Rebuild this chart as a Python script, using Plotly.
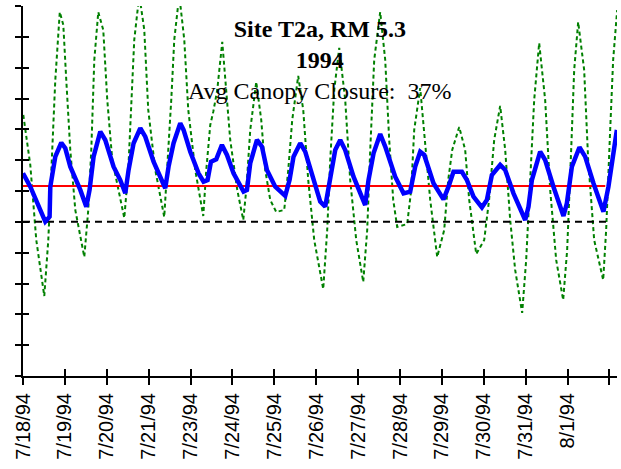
import plotly.graph_objects as go

# ---- data (x in days since 7/18/94, y in deg C) ----
tick_labels = ["7/18/94", "7/19/94", "7/20/94", "7/21/94", "7/23/94", "7/24/94", "7/25/94",
               "7/26/94", "7/27/94", "7/28/94", "7/29/94", "7/30/94", "7/31/94", "8/1/94", ""]
tick_pos = list(range(15))

water_x = [0.0, 0.174, 0.532, 0.635, 0.652, 0.771, 0.914, 1.010, 1.129, 1.368, 1.511, 1.589, 1.685,
           1.845, 1.964, 2.162, 2.322, 2.442, 2.520, 2.640, 2.800, 2.919, 3.117, 3.277, 3.396, 3.475,
           3.594, 3.754, 3.833, 3.993, 4.191, 4.310, 4.406, 4.487, 4.613, 4.749, 4.869, 5.026, 5.265,
           5.346, 5.425, 5.585, 5.704, 5.823, 6.021, 6.260, 6.363, 6.458, 6.618, 6.737, 6.897, 7.095,
           7.215, 7.334, 7.453, 7.573, 7.692, 7.890, 8.169, 8.248, 8.368, 8.527, 8.647, 8.885, 9.084,
           9.243, 9.363, 9.482, 9.578, 9.799, 10.038, 10.158, 10.277, 10.477, 10.597, 10.754, 10.955,
           11.074, 11.193, 11.391, 11.511, 11.709, 11.988, 12.067, 12.148, 12.346, 12.465, 12.663,
           12.902, 12.983, 13.103, 13.284, 13.420, 13.618, 13.857, 13.976, 14.095, 14.177]
water_t = [13.15, 12.28, 10.01, 10.33, 12.28, 14.23, 15.13, 14.77, 13.58, 12.07, 10.98, 12.07, 14.23,
           15.85, 15.31, 13.58, 12.71, 11.85, 13.36, 15.10, 16.07, 15.52, 13.90, 12.93, 12.18, 13.58,
           15.10, 16.39, 15.96, 14.55, 13.15, 12.60, 12.71, 13.90, 14.06, 14.99, 14.34, 13.15, 11.96,
           12.07, 13.80, 15.31, 14.88, 13.36, 12.28, 11.68, 12.71, 14.23, 15.10, 14.55, 13.04, 11.31,
           10.98, 12.71, 14.66, 15.31, 14.66, 12.93, 11.09, 12.71, 14.45, 15.70, 14.88, 12.93, 11.85,
           11.96, 13.58, 14.55, 14.34, 12.50, 11.46, 12.28, 13.25, 13.25, 12.71, 11.63, 10.94,
           11.42, 13.04, 13.69, 13.36, 11.85, 10.12, 10.98, 12.71, 14.55, 14.01, 12.28,
           10.38, 11.20, 13.58, 14.84, 14.23, 12.50, 10.66, 12.28, 14.45, 15.96]

air_x = [0.007, 0.174, 0.317, 0.508, 0.604, 0.699, 0.771, 0.878, 0.962, 1.033, 1.129, 1.248, 1.463,
         1.558, 1.630, 1.702, 1.797, 1.916, 2.012, 2.131, 2.418, 2.513, 2.585, 2.656, 2.776, 2.895,
         2.990, 3.158, 3.372, 3.444, 3.539, 3.611, 3.730, 3.850, 3.945, 4.112, 4.303, 4.375, 4.470,
         4.542, 4.637, 4.757, 4.852, 4.947, 5.115, 5.258, 5.330, 5.425, 5.568, 5.687, 5.783, 5.902,
         6.045, 6.236, 6.332, 6.427, 6.570, 6.690, 6.809, 6.952, 7.167, 7.262, 7.334, 7.430, 7.549,
         7.692, 7.811, 7.955, 8.122, 8.217, 8.289, 8.384, 8.527, 8.647, 8.742, 8.838, 8.933, 9.172,
         9.267, 9.339, 9.482, 9.601, 9.721, 9.888, 10.055, 10.151, 10.246, 10.413, 10.556, 10.652,
         10.819, 11.010, 11.126, 11.248, 11.391, 11.511, 11.630, 11.749, 11.916, 12.012, 12.107,
         12.203, 12.322, 12.465, 12.585, 12.728, 12.895, 12.990, 13.086, 13.158, 13.253, 13.396,
         13.492, 13.635, 13.850, 13.921, 14.017, 14.088, 14.184]
air_t = [16.93, 13.69, 8.82, 5.19, 8.82, 14.66, 19.20, 23.61, 22.77, 19.20, 14.66, 10.77, 7.72,
         10.77, 14.66, 20.50, 23.61, 22.45, 17.90, 14.01, 10.25, 13.36, 17.26, 21.80, 24.72, 22.45,
         17.26, 13.36, 10.31, 13.36, 17.90, 21.80, 24.72, 21.80, 17.26, 13.36, 10.38, 13.36, 16.28,
         17.13, 18.55, 21.67, 18.55, 15.31, 12.07, 10.12, 12.07, 15.96, 19.07, 16.61, 13.36, 11.42,
         10.64, 10.77, 13.36, 16.61, 19.46, 17.26, 12.71, 8.82, 5.64, 9.47, 14.01, 18.55, 21.28,
         17.90, 12.71, 8.82, 6.10, 9.47, 14.66, 20.50, 23.61, 20.50, 15.31, 11.42, 9.67, 9.86,
         12.07, 15.96, 18.68, 15.31, 11.42, 7.72, 9.47, 12.71, 14.66, 16.15, 14.66, 11.42,
         7.91, 8.82, 11.42, 15.31, 17.52, 14.66, 10.12, 6.88, 4.09, 7.53, 12.71,
         17.90, 21.60, 17.90, 12.07, 7.53, 4.93, 8.17, 14.66, 19.85, 22.96, 19.85,
         14.01, 8.82, 6.23, 9.47, 15.96, 20.50, 23.74]

mean_x = [0.0, 13.90]
mean_t = [12.33, 12.33]
crit_x = [0.0, 13.97]
crit_t = [10.0, 10.0]

x_max = 14.18
y_max = 24

fig = go.Figure()
fig.add_trace(go.Scatter(x=air_x, y=air_t, mode="lines",
                         line=dict(color="#008000", width=2, dash="4px,3px")))
fig.add_trace(go.Scatter(x=crit_x, y=crit_t, mode="lines",
                         line=dict(color="black", width=2, dash="7px,5px")))
fig.add_trace(go.Scatter(x=mean_x, y=mean_t, mode="lines",
                         line=dict(color="#ff0000", width=2)))
fig.add_trace(go.Scatter(x=water_x, y=water_t, mode="lines",
                         line=dict(color="#0000ff", width=4.5)))

fig.update_layout(
    width=621, height=469,
    margin=dict(l=23, r=4, t=6, b=93, autoexpand=False),
    paper_bgcolor="white", plot_bgcolor="white",
    showlegend=False,
    xaxis=dict(range=[0, x_max], tickvals=tick_pos, ticktext=tick_labels, tickangle=-90,
               ticks="outside", ticklen=7, tickwidth=2, tickcolor="black", automargin=False,
               showline=True, linewidth=2, linecolor="black", showgrid=False, zeroline=False,
               tickfont=dict(family="Liberation Sans, Arial", size=20, color="black")),
    xaxis2=dict(range=[0, x_max], overlaying="x", anchor="y", side="bottom", automargin=False,
                tickvals=tick_pos, ticks="inside", ticklen=7, tickwidth=2, tickcolor="black",
                showticklabels=False, showline=False, showgrid=False, zeroline=False),
    yaxis=dict(range=[0, y_max], tickvals=list(range(0, 25, 2)), ticks="outside", ticklen=6,
               tickwidth=2, tickcolor="black", showticklabels=False, automargin=False,
               showline=True, linewidth=2, linecolor="black", showgrid=False, zeroline=False),
    yaxis2=dict(range=[0, y_max], overlaying="y", anchor="x", side="left", automargin=False,
                tickvals=list(range(0, 25, 2)), ticks="inside", ticklen=6, tickwidth=2,
                tickcolor="black", showticklabels=False, showline=False, showgrid=False,
                zeroline=False),
    annotations=[dict(
        xref="paper", yref="paper", x=0.5, y=0.978, xanchor="center", yanchor="top",
        showarrow=False, align="center",
        text="<b>Site T2a, RM 5.3</b><br><b>1994</b><br>Avg Canopy Closure:&nbsp; 37%",
        font=dict(family="Liberation Serif, Times New Roman", size=24, color="black"))],
)
# invisible trace so the overlay (crossing-tick) axes render
fig.add_trace(go.Scatter(x=[0], y=[0], xaxis="x2", yaxis="y2", mode="markers",
                         marker=dict(opacity=0), hoverinfo="skip"))

fig.write_html("out.html", config={"displayModeBar": False},
               post_script="document.body.style.margin='0';document.body.style.overflow='hidden';")
